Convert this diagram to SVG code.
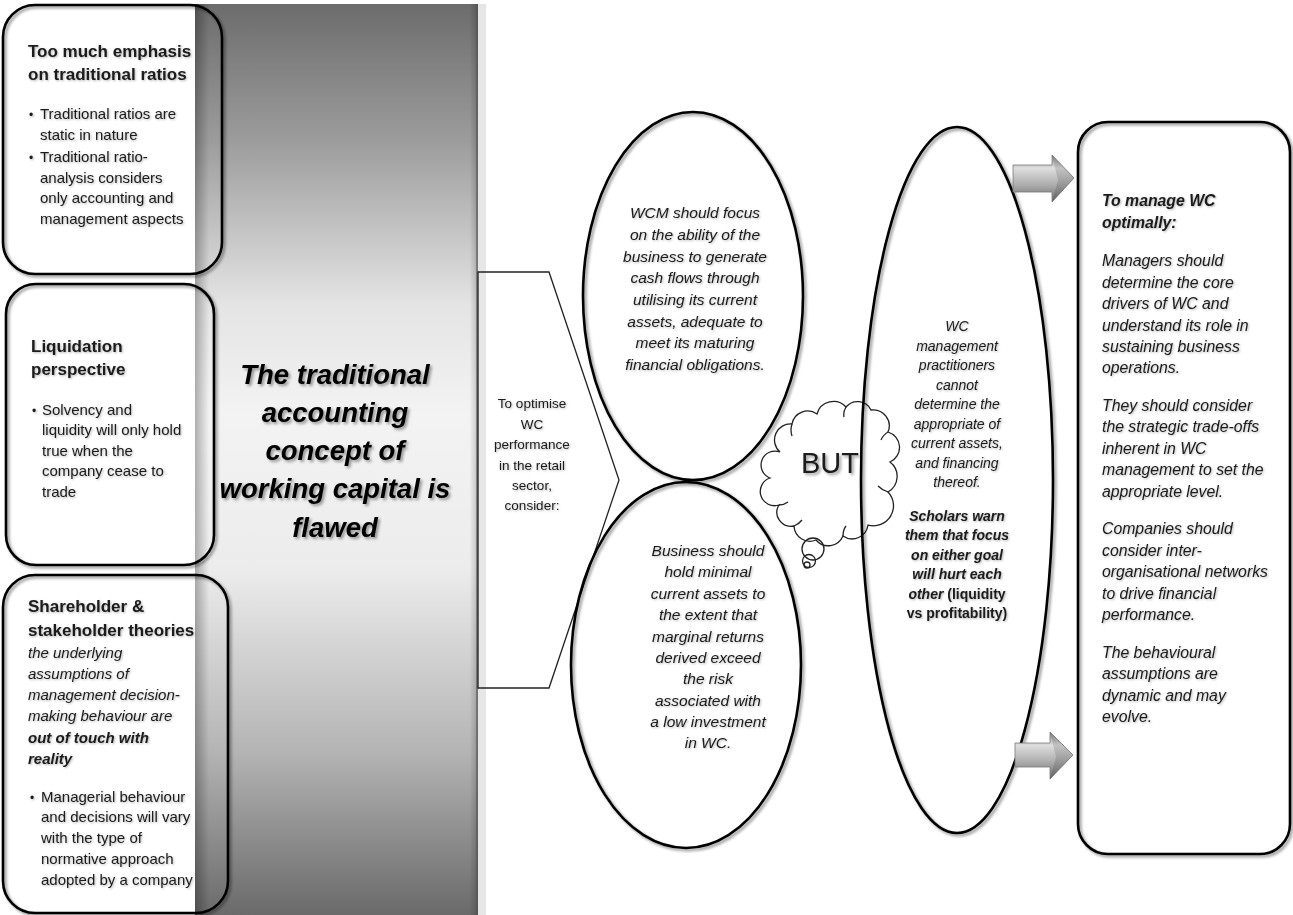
<svg xmlns="http://www.w3.org/2000/svg" width="1293" height="915" viewBox="0 0 1293 915">
  <style>
    text { font-family: "Liberation Sans", Arial, sans-serif; fill: #1a1a1a; }
    .head { font-size: 17px; font-weight: bold; }
    .body { font-size: 15px; }
    .it { font-style: italic; }
    .bi { font-style: italic; font-weight: bold; }
    .b { font-weight: bold; }
    .mid { text-anchor: middle; }
    .frame { fill: none; stroke: #000; stroke-width: 2.6; }
    .thin { fill: none; stroke: #222; stroke-width: 1.3; }
    .bul { font-size: 12px; }
    .title { fill: #000; }
  </style>
  <defs>
    <linearGradient id="barV" x1="0" y1="0" x2="0" y2="1">
      <stop offset="0" stop-color="#6c6c6c"/>
      <stop offset="0.15" stop-color="#9c9c9c"/>
      <stop offset="0.33" stop-color="#e4e4e4"/>
      <stop offset="0.45" stop-color="#f3f3f3"/>
      <stop offset="0.62" stop-color="#ececec"/>
      <stop offset="0.82" stop-color="#b4b4b4"/>
      <stop offset="1" stop-color="#6a6a6a"/>
    </linearGradient>
    <linearGradient id="barEdge" x1="0" y1="0" x2="1" y2="0">
      <stop offset="0" stop-color="#000" stop-opacity="0.28"/>
      <stop offset="0.05" stop-color="#000" stop-opacity="0"/>
      <stop offset="0.97" stop-color="#000" stop-opacity="0"/>
      <stop offset="1" stop-color="#000" stop-opacity="0.2"/>
    </linearGradient>
    <linearGradient id="arrowFill" x1="0" y1="0" x2="0" y2="1">
      <stop offset="0" stop-color="#8c8c8c"/>
      <stop offset="0.28" stop-color="#dedede"/>
      <stop offset="0.6" stop-color="#b2b2b2"/>
      <stop offset="1" stop-color="#6e6e6e"/>
    </linearGradient>
    <filter id="shadow" x="-10%" y="-10%" width="120%" height="120%">
      <feGaussianBlur in="SourceAlpha" stdDeviation="1.5"/>
      <feOffset dx="1.5" dy="1.5"/>
      <feComponentTransfer><feFuncA type="linear" slope="0.45"/></feComponentTransfer>
      <feMerge><feMergeNode/><feMergeNode in="SourceGraphic"/></feMerge>
    </filter>
    <filter id="ts" x="-5%" y="-5%" width="110%" height="110%">
      <feGaussianBlur in="SourceAlpha" stdDeviation="0.9"/>
      <feOffset dx="0.8" dy="0.8"/>
      <feComponentTransfer><feFuncA type="linear" slope="0.3"/></feComponentTransfer>
      <feMerge><feMergeNode/><feMergeNode in="SourceGraphic"/></feMerge>
    </filter>
    <filter id="tsBig" x="-10%" y="-10%" width="120%" height="120%">
      <feGaussianBlur in="SourceAlpha" stdDeviation="1.6"/>
      <feOffset dx="2" dy="2"/>
      <feComponentTransfer><feFuncA type="linear" slope="0.4"/></feComponentTransfer>
      <feMerge><feMergeNode/><feMergeNode in="SourceGraphic"/></feMerge>
    </filter>
  </defs>

  <rect width="1293" height="915" fill="#fff"/>

  <!-- central shaded band with the main statement -->
  <g id="bar">
    <rect x="470" y="4" width="16" height="911" fill="#e6e6e6"/>
    <rect x="195" y="4" width="283" height="911" fill="url(#barV)"/>
    <rect x="195" y="4" width="283" height="911" fill="url(#barEdge)"/>
    <line x1="477" y1="4" x2="477" y2="915" stroke="#555" stroke-width="1.2"/>
    <g filter="url(#tsBig)" class="bi mid title" font-size="27.5">
      <text x="335" y="384" class="title">The traditional</text>
      <text x="335" y="422" class="title">accounting</text>
      <text x="335" y="460" class="title">concept of</text>
      <text x="335" y="498" class="title">working capital is</text>
      <text x="335" y="537" class="title">flawed</text>
    </g>
  </g>

  <g id="box-ratios">
    <rect x="3" y="5" width="219" height="269" rx="32" class="frame" filter="url(#shadow)"/>
    <g filter="url(#ts)">
      <text x="28" y="57" class="head">Too much emphasis</text>
      <text x="28" y="80" class="head">on traditional ratios</text>
      <text x="29" y="119" class="bul">•</text>
      <text x="40" y="119" class="body">Traditional ratios are</text>
      <text x="40" y="140" class="body">static in nature</text>
      <text x="29" y="162" class="bul">•</text>
      <text x="40" y="162" class="body">Traditional ratio-</text>
      <text x="40" y="183" class="body">analysis considers</text>
      <text x="40" y="203" class="body">only accounting and</text>
      <text x="40" y="224" class="body">management aspects</text>
    </g>
  </g>

  <g id="box-liquidation">
    <rect x="6" y="284" width="208" height="281" rx="30" class="frame" filter="url(#shadow)"/>
    <g filter="url(#ts)">
      <text x="31" y="352" class="head">Liquidation</text>
      <text x="31" y="375" class="head">perspective</text>
      <text x="32" y="415" class="bul">•</text>
      <text x="42" y="415" class="body">Solvency and</text>
      <text x="42" y="435" class="body">liquidity will only hold</text>
      <text x="42" y="456" class="body">true when the</text>
      <text x="42" y="476" class="body">company cease to</text>
      <text x="42" y="497" class="body">trade</text>
    </g>
  </g>

  <g id="box-theories">
    <rect x="3" y="575" width="225" height="338" rx="32" class="frame" filter="url(#shadow)"/>
    <g filter="url(#ts)">
      <text x="28" y="612" class="head">Shareholder &amp;</text>
      <text x="28" y="636" class="head">stakeholder theories</text>
      <text x="28" y="658" class="body it">the underlying</text>
      <text x="28" y="679" class="body it">assumptions of</text>
      <text x="28" y="700" class="body it">management decision-</text>
      <text x="28" y="721" class="body it">making behaviour are</text>
      <text x="28" y="743" class="body bi">out of touch with</text>
      <text x="28" y="764" class="body bi">reality</text>
      <text x="30" y="802" class="bul">•</text>
      <text x="41" y="802" class="body">Managerial behaviour</text>
      <text x="41" y="822" class="body">and decisions will vary</text>
      <text x="41" y="843" class="body">with the type of</text>
      <text x="41" y="864" class="body">normative approach</text>
      <text x="41" y="885" class="body">adopted by a company</text>
    </g>
  </g>

  <g id="chevron">
    <polygon points="478,272 549,272 619,480 549,688 478,688" class="thin" fill="#fff"/>
    <g filter="url(#ts)" class="mid" font-size="13.5">
      <text x="532" y="408">To optimise</text>
      <text x="532" y="429">WC</text>
      <text x="532" y="449">performance</text>
      <text x="532" y="470">in the retail</text>
      <text x="532" y="490">sector,</text>
      <text x="532" y="510">consider:</text>
    </g>
  </g>

  <g id="ellipse-cashflow">
    <ellipse cx="693" cy="296" rx="110" ry="184" class="frame" filter="url(#shadow)"/>
    <g filter="url(#ts)" class="mid it" font-size="15.5">
      <text x="695" y="218">WCM should focus</text>
      <text x="695" y="240">on the ability of the</text>
      <text x="695" y="262">business to generate</text>
      <text x="695" y="283">cash flows through</text>
      <text x="695" y="305">utilising its current</text>
      <text x="695" y="327">assets, adequate to</text>
      <text x="695" y="348">meet its maturing</text>
      <text x="695" y="370">financial obligations.</text>
    </g>
  </g>

  <g id="ellipse-minimal">
    <ellipse cx="686" cy="665" rx="115" ry="183" class="frame" filter="url(#shadow)"/>
    <g filter="url(#ts)" class="mid it" font-size="15.5">
      <text x="708" y="556">Business should</text>
      <text x="708" y="577">hold minimal</text>
      <text x="708" y="599">current assets to</text>
      <text x="708" y="620">the extent that</text>
      <text x="708" y="642">marginal returns</text>
      <text x="708" y="663">derived exceed</text>
      <text x="708" y="684">the risk</text>
      <text x="708" y="706">associated with</text>
      <text x="708" y="727">a low investment</text>
      <text x="708" y="748">in WC.</text>
    </g>
  </g>

  <g id="cloud-but">
    <path class="thin" fill="#fff" d="M780,452 A16,16 0 0 1 792,424 A16,16 0 0 1 817,414 A17,17 0 0 1 846,407 A15,15 0 0 1 871,410 A16,16 0 0 1 888,432 A16,16 0 0 1 890,462 A18,18 0 0 1 888,492 A20,20 0 0 1 868,525 A16,16 0 0 1 843,536 A16,16 0 0 1 816,540 A16,16 0 0 1 794,526 A14,14 0 0 1 779,505 A13,13 0 0 1 770,478 A13,13 0 0 1 780,452 Z"/>
    <path class="thin" d="M792,424 q-2,6 0,12 M846,407 q-3,5 -2,10 M888,432 q-5,3 -7,8 M888,492 q-6,-2 -10,-6 M843,536 q0,-6 3,-10 M794,526 q5,-2 8,-6 M779,505 q5,0 9,-3"/>
    <circle cx="813" cy="549" r="11" class="thin" fill="#fff"/>
    <circle cx="809" cy="561" r="6.5" class="thin" fill="#fff"/>
    <circle cx="807" cy="565" r="3" class="thin" fill="#fff"/>
    <text x="830" y="473" class="mid" font-size="29" filter="url(#tsBig)">BUT</text>
  </g>

  <g id="ellipse-practitioners">
    <ellipse cx="957" cy="480" rx="96" ry="353" class="frame" filter="url(#shadow)"/>
    <g filter="url(#ts)" class="mid" font-size="14">
      <text x="957" y="331" class="it">WC</text>
      <text x="957" y="351" class="it">management</text>
      <text x="957" y="370" class="it">practitioners</text>
      <text x="957" y="390" class="it">cannot</text>
      <text x="957" y="409" class="it">determine the</text>
      <text x="957" y="429" class="it">appropriate of</text>
      <text x="957" y="448" class="it">current assets,</text>
      <text x="957" y="468" class="it">and financing</text>
      <text x="957" y="487" class="it">thereof.</text>
      <text x="957" y="521" class="bi">Scholars warn</text>
      <text x="957" y="540" class="bi">them that focus</text>
      <text x="957" y="560" class="bi">on either goal</text>
      <text x="957" y="579" class="bi">will hurt each</text>
      <text x="957" y="599"><tspan class="bi">other </tspan><tspan class="b">(liquidity</tspan></text>
      <text x="957" y="618" class="b">vs profitability)</text>
    </g>
  </g>

  <g id="box-manage">
    <rect x="1078" y="122" width="212" height="732" rx="30" class="frame" filter="url(#shadow)"/>
    <g filter="url(#ts)" font-size="15.8">
      <text x="1102" y="206" class="bi">To manage WC</text>
      <text x="1102" y="228" class="bi">optimally:</text>
      <text x="1102" y="266" class="it">Managers should</text>
      <text x="1102" y="288" class="it">determine the core</text>
      <text x="1102" y="309" class="it">drivers of WC and</text>
      <text x="1102" y="331" class="it">understand its role in</text>
      <text x="1102" y="352" class="it">sustaining business</text>
      <text x="1102" y="373" class="it">operations.</text>
      <text x="1102" y="411" class="it">They should consider</text>
      <text x="1102" y="432" class="it">the strategic trade-offs</text>
      <text x="1102" y="454" class="it">inherent in WC</text>
      <text x="1102" y="475" class="it">management to set the</text>
      <text x="1102" y="497" class="it">appropriate level.</text>
      <text x="1102" y="534" class="it">Companies should</text>
      <text x="1102" y="556" class="it">consider inter-</text>
      <text x="1102" y="577" class="it">organisational networks</text>
      <text x="1102" y="599" class="it">to drive financial</text>
      <text x="1102" y="620" class="it">performance.</text>
      <text x="1102" y="658" class="it">The behavioural</text>
      <text x="1102" y="679" class="it">assumptions are</text>
      <text x="1102" y="701" class="it">dynamic and may</text>
      <text x="1102" y="722" class="it">evolve.</text>
    </g>
  </g>

  <!-- block arrows into the right-hand box -->
  <g id="connectors">
    <polygon points="1013,165 1052,165 1052,155 1074,178 1052,202 1052,192 1013,192" fill="url(#arrowFill)" stroke="#7a7a7a" stroke-width="0.8"/>
    <polygon points="1052,155 1074,178 1052,202 1058,180" fill="#000" fill-opacity="0.12"/>
    <polygon points="1015,743 1050,743 1050,732 1073,755 1050,779 1050,767 1015,767" fill="url(#arrowFill)" stroke="#7a7a7a" stroke-width="0.8"/>
    <polygon points="1050,732 1073,755 1050,779 1056,757" fill="#000" fill-opacity="0.12"/>
  </g>
</svg>
